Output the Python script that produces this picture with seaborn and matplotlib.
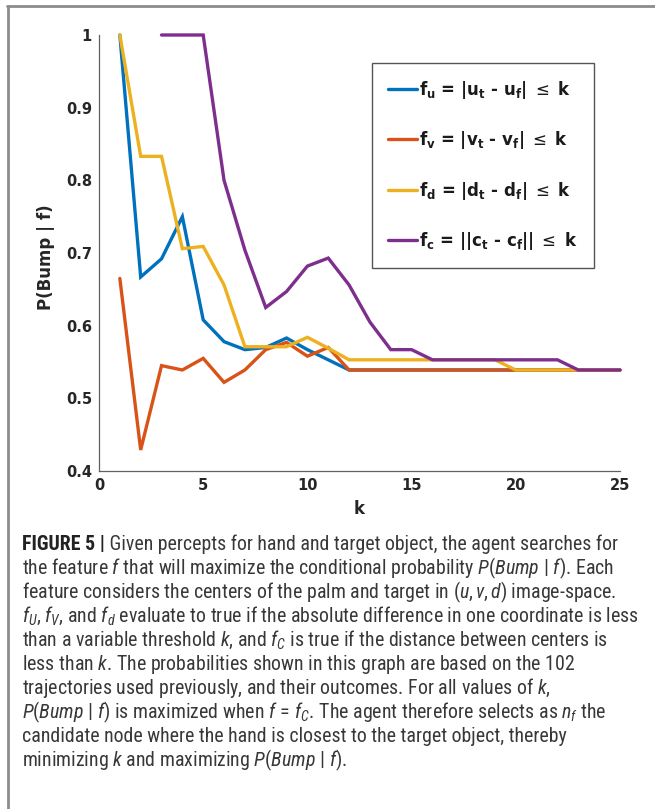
import numpy as np
import pandas as pd
import matplotlib
matplotlib.use("Agg")
import matplotlib.pyplot as plt
import seaborn as sns
from matplotlib import font_manager
from matplotlib.lines import Line2D

# ---------------- data ----------------
k = list(range(1, 26))
f_u = [1.0, 0.667, 0.692, 0.750, 0.608, 0.578, 0.567, 0.570, 0.583, 0.567, 0.553, 0.539,
       0.539, 0.539, 0.539, 0.539, 0.539, 0.539, 0.539, 0.539, 0.539, 0.539, 0.539, 0.539, 0.539]
f_v = [0.665, 0.429, 0.545, 0.539, 0.555, 0.522, 0.539, 0.567, 0.577, 0.558, 0.570, 0.539,
       0.539, 0.539, 0.539, 0.539, 0.539, 0.539, 0.539, 0.539, 0.539, 0.539, 0.539, 0.539, 0.539]
f_d = [1.0, 0.833, 0.833, 0.706, 0.709, 0.656, 0.571, 0.571, 0.571, 0.584, 0.569, 0.553,
       0.553, 0.553, 0.553, 0.553, 0.553, 0.553, 0.553, 0.539, 0.539, 0.539, 0.539, 0.539, 0.539]
f_c = [np.nan, np.nan, 1.0, 1.0, 1.0, 0.800, 0.704, 0.625, 0.647, 0.682, 0.693, 0.656,
       0.605, 0.567, 0.567, 0.553, 0.553, 0.553, 0.553, 0.553, 0.553, 0.553, 0.539, 0.539, 0.539]

series_labels = [
    r"$\mathbf{f_u}$ = |$\mathbf{u_t}$ - $\mathbf{u_f}$| $\mathsf{\leq}$ k",
    r"$\mathbf{f_v}$ = |$\mathbf{v_t}$ - $\mathbf{v_f}$| $\mathsf{\leq}$ k",
    r"$\mathbf{f_d}$ = |$\mathbf{d_t}$ - $\mathbf{d_f}$| $\mathsf{\leq}$ k",
    r"$\mathbf{f_c}$ = ||$\mathbf{c_t}$ - $\mathbf{c_f}$|| $\mathsf{\leq}$ k",
]
series_values = [f_u, f_v, f_d, f_c]
colors = ["#0072BD", "#D95319", "#EDB120", "#7E2F8E"]

xticks = [0, 5, 10, 15, 20, 25]
xtick_labels = ["0", "5", "10", "15", "20", "25"]
yticks = [0.4, 0.5, 0.6, 0.7, 0.8, 0.9, 1.0]
ytick_labels = ["0.4", "0.5", "0.6", "0.7", "0.8", "0.9", "1"]
x_label = "k"
y_label = "P(Bump | f)"

caption_bold = "FIGURE 5 |"
caption_lines = [
    " Given percepts for hand and target object, the agent searches for",
    r"the feature $f$ that will maximize the conditional probability $P(Bump\ |\ f)$. Each",
    r"feature considers the centers of the palm and target in $(u, v, d)$ image-space.",
    r"$f_U$, $f_V$, and $f_d$ evaluate to true if the absolute difference in one coordinate is less",
    r"than a variable threshold $k$, and $f_C$ is true if the distance between centers is",
    r"less than $k$. The probabilities shown in this graph are based on the 102",
    r"trajectories used previously, and their outcomes. For all values of $k$,",
    r"$P(Bump\ |\ f)$ is maximized when $f\, =\, f_C$. The agent therefore selects as $n_f$ the",
    r"candidate node where the hand is closest to the target object, thereby",
    r"minimizing $k$ and maximizing $P(Bump\ |\ f)$.",
]

# ---------------- style ----------------
sns.set_theme(style="white")
names = {f.name for f in font_manager.fontManager.ttflist}
cap_font = "Liberation Sans"
for cand in ["Roboto Condensed", "Liberation Sans Narrow", "Open Sans Condensed",
             "Noto Sans Condensed"]:
    if cand in names:
        cap_font = cand
        break
plt.rcParams.update({
    "font.family": ["DejaVu Sans"],
    "mathtext.fontset": "custom",
    "mathtext.rm": cap_font,
    "mathtext.it": cap_font + ":italic",
    "mathtext.bf": "DejaVu Sans:bold",
    "mathtext.sf": "DejaVu Sans",
})

W, H = 655, 809
fig = plt.figure(figsize=(W / 100, H / 100), dpi=100)
fig.patch.set_facecolor("white")
ax = fig.add_axes([99 / W, 1 - 471 / H, 521 / W, 436 / H])

frames = []
for lab, vals in zip(series_labels, series_values):
    frames.append(pd.DataFrame({"k": k, "P": vals, "feature": lab}))
df = pd.concat(frames, ignore_index=True).dropna()

sns.lineplot(data=df, x="k", y="P", hue="feature", hue_order=series_labels,
             palette=colors, linewidth=2.4, estimator=None, sort=False,
             legend=False, ax=ax)
for ln in ax.get_lines():
    ln.set_clip_on(False)
    ln.set_solid_joinstyle("miter")

ax.set_xlim(0, 25)
ax.set_ylim(0.4, 1.0)
ax.set_xticks(xticks)
ax.set_xticklabels(xtick_labels)
ax.set_yticks(yticks)
ax.set_yticklabels(ytick_labels)
for s in ["top", "right"]:
    ax.spines[s].set_visible(False)
for s in ["left", "bottom"]:
    ax.spines[s].set_color("#606060")
    ax.spines[s].set_linewidth(0.9)
ax.tick_params(direction="in", length=5, width=0.9, color="#606060",
               labelsize=10.5, labelcolor="#262626")
ax.tick_params(axis="y", pad=5)
ax.tick_params(axis="x", pad=5)
for t in ax.get_xticklabels() + ax.get_yticklabels():
    t.set_fontweight("bold")

ax.set_xlabel(x_label, fontsize=12, fontweight="bold", color="#262626")
ax.set_ylabel(y_label, fontsize=12, fontweight="bold", color="#262626")
ax.yaxis.set_label_coords(-0.085, 0.49)
ax.xaxis.set_label_coords(0.5, -0.066)

handles = ax.get_lines()[:4]
leg = ax.legend(handles, series_labels, loc="upper left",
                bbox_to_anchor=((372 - 99) / 521, (471 - 63) / 436),
                borderaxespad=0, frameon=True, fancybox=False,
                edgecolor="#555555", framealpha=1,
                prop={"size": 12, "weight": "bold"},
                handlelength=1.75, handletextpad=0.15,
                labelspacing=1.7, borderpad=0.95)
leg.get_frame().set_linewidth(1.0)
for t in leg.get_texts():
    t.set_color("#1a1a1a")

# outer frame (top and left)
fig.add_artist(Line2D([7.5 / W, 7.5 / W], [0, 1 - 6 / H], transform=fig.transFigure,
                      color="#8c8c8c", lw=2))
fig.add_artist(Line2D([6.5 / W, 1], [1 - 6 / H, 1 - 6 / H], transform=fig.transFigure,
                      color="#8c8c8c", lw=2))

# caption
cap_color = "#383838"
x0 = 22 / W
base0 = 550
step = 24
size0 = 10
tb = fig.text(x0, 1 - base0 / H, caption_bold, fontsize=size0, fontweight="bold",
              family=cap_font, color="#222222", va="baseline", ha="left")
texts = []
for i, line in enumerate(caption_lines):
    t = fig.text(x0, 1 - (base0 + i * step) / H, line, fontsize=size0,
                 family=cap_font, color=cap_color, va="baseline", ha="left")
    texts.append(t)
fig.canvas.draw()
r = fig.canvas.get_renderer()
widths = [tb.get_window_extent(r).width + texts[0].get_window_extent(r).width]
widths += [t.get_window_extent(r).width for t in texts[1:]]
size = size0 * 616 / max(widths)
tb.set_fontsize(size)
for t in texts:
    t.set_fontsize(size)
fig.canvas.draw()
bb = tb.get_window_extent(r)
texts[0].set_x(bb.x1 / W)

fig.savefig("out.png", dpi=100, facecolor="white")
